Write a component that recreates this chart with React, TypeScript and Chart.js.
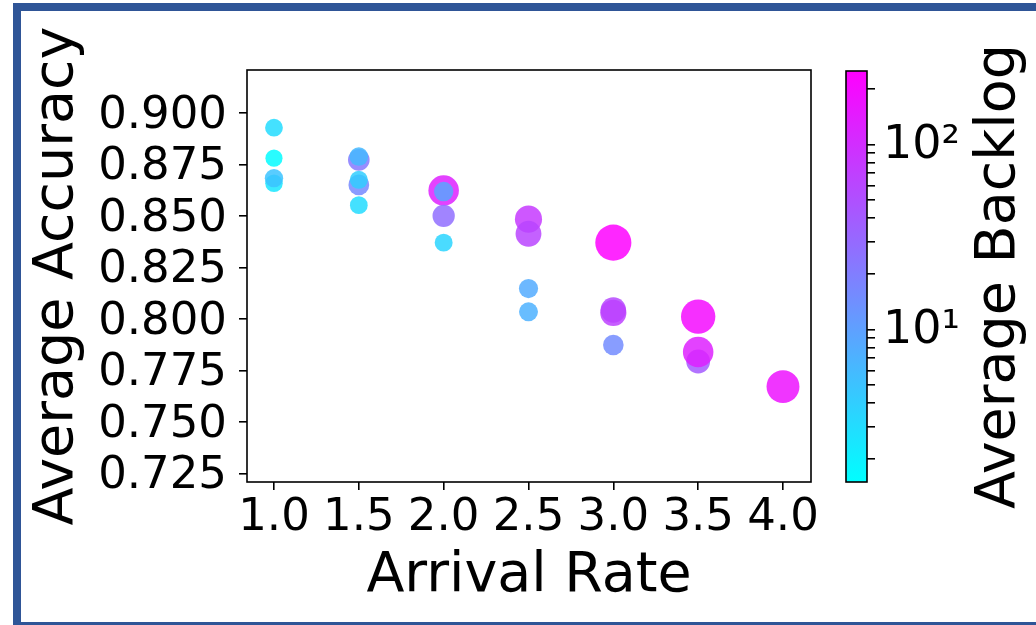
import React, { useEffect, useRef } from 'react';
import { Chart, registerables } from 'chart.js';

Chart.register(...registerables);

// ---- data ----
const arrivalRates = [
  1.0, 1.0, 1.0, 1.0,
  1.5, 1.5, 1.5, 1.5, 1.5,
  2.0, 2.0, 2.0, 2.0,
  2.5, 2.5, 2.5, 2.5,
  3.0, 3.0, 3.0, 3.0,
  3.5, 3.5, 3.5,
  4.0,
];
const averageAccuracy = [
  0.893, 0.8782, 0.866, 0.8685,
  0.8774, 0.879, 0.8652, 0.8677, 0.8554,
  0.8625, 0.862, 0.8502, 0.8372,
  0.8486, 0.8415, 0.8149, 0.8036,
  0.8372, 0.8045, 0.8031, 0.7875,
  0.8013, 0.7795, 0.7841,
  0.7673,
];
const averageBacklog = [
  3, 1.6, 2.5, 5,
  22, 6, 16, 4, 3,
  130, 9, 27, 3.5,
  78, 62, 8, 7,
  245, 58, 66, 15,
  205, 40, 130,
  175,
];
const xTicks = [1.0, 1.5, 2.0, 2.5, 3.0, 3.5, 4.0];
const yTicks = [0.725, 0.75, 0.775, 0.8, 0.825, 0.85, 0.875, 0.9];
const backlogTicks = [2, 3, 4, 5, 6, 7, 8, 9, 10, 20, 30, 40, 50, 60, 70, 80, 90, 100, 200];
const backlogTickLabels: Record<number, string> = { 10: '10¹', 100: '10²' };
const backlogRange = [1.5, 250];

const FONT = "'DejaVu Sans', sans-serif";
const ALPHA = 0.85;

function coolT(b: number) {
  const lo = Math.log10(backlogRange[0]);
  const hi = Math.log10(backlogRange[1]);
  return Math.min(1, Math.max(0, (Math.log10(b) - lo) / (hi - lo)));
}
function coolColor(b: number, a: number) {
  const t = coolT(b);
  return `rgba(${Math.round(255 * t)},${Math.round(255 * (1 - t))},255,${a})`;
}
function markerRadius(b: number) {
  return 7.73 + 0.66 * Math.sqrt(b);
}

export default function App() {
  const mainRef = useRef<HTMLCanvasElement | null>(null);
  const cbarRef = useRef<HTMLCanvasElement | null>(null);

  useEffect(() => {
    Chart.defaults.color = '#000';
    Chart.defaults.font.family = FONT;

    const points = arrivalRates.map((x, i) => ({ x, y: averageAccuracy[i] }));
    const colors = averageBacklog.map((b) => coolColor(b, ALPHA));
    const radii = averageBacklog.map((b) => markerRadius(b));

    const framePlugin = {
      id: 'frame',
      afterDatasetsDraw(chart: any) {
        const { ctx, chartArea: a } = chart;
        ctx.save();
        ctx.strokeStyle = '#000';
        ctx.lineWidth = 1.6;
        ctx.strokeRect(a.left, a.top, a.right - a.left, a.bottom - a.top);
        ctx.restore();
      },
    };

    const tickGrid = {
      drawOnChartArea: false,
      drawTicks: true,
      tickLength: 8,
      color: '#000',
      lineWidth: 1.6,
    };

    const main = new Chart(mainRef.current as HTMLCanvasElement, {
      type: 'scatter',
      data: {
        datasets: [
          {
            data: points,
            pointBackgroundColor: colors,
            pointRadius: radii,
            pointHoverRadius: radii,
            pointBorderWidth: 0,
            borderWidth: 0,
          } as any,
        ],
      },
      options: {
        responsive: false,
        animation: false,
        devicePixelRatio: 1,
        events: [],
        layout: { padding: { left: 20, top: 70, right: 225, bottom: 0 } },
        plugins: { legend: { display: false }, tooltip: { enabled: false } },
        scales: {
          x: {
            type: 'linear',
            min: 0.841,
            max: 4.165,
            afterBuildTicks: (s: any) => {
              s.ticks = xTicks.map((v) => ({ value: v }));
            },
            afterFit: (s: any) => {
              s.height = 143;
            },
            ticks: {
              font: { size: 45, family: FONT },
              padding: 1,
              maxRotation: 0,
              autoSkip: false,
              callback: (v: any) => Number(v).toFixed(1),
            },
            grid: tickGrid,
            border: { display: false },
            title: {
              display: true,
              text: 'Arrival Rate',
              font: { size: 55.5, family: FONT },
              padding: { top: 0, bottom: 14.7 },
            },
          },
          y: {
            type: 'linear',
            min: 0.721,
            max: 0.921,
            afterBuildTicks: (s: any) => {
              s.ticks = yTicks.map((v) => ({ value: v }));
            },
            afterFit: (s: any) => {
              s.width = 227;
            },
            ticks: {
              font: { size: 45, family: FONT },
              padding: 12,
              labelOffset: 3,
              autoSkip: false,
              callback: (v: any) => Number(v).toFixed(3),
            },
            grid: tickGrid,
            border: { display: false },
            title: {
              display: true,
              text: 'Average Accuracy',
              font: { size: 55.5, family: FONT },
              padding: { top: 4.5, bottom: 0 },
            },
          },
        },
      } as any,
      plugins: [framePlugin],
    });

    const colorbarPlugin = {
      id: 'colorbar',
      beforeDatasetsDraw(chart: any) {
        const { ctx, chartArea: a } = chart;
        ctx.save();
        const g = ctx.createLinearGradient(0, a.bottom, 0, a.top);
        g.addColorStop(0, coolColor(backlogRange[0], 1));
        g.addColorStop(1, coolColor(backlogRange[1], 1));
        ctx.fillStyle = g;
        ctx.fillRect(a.left, a.top, a.right - a.left, a.bottom - a.top);
        ctx.strokeStyle = '#000';
        ctx.lineWidth = 1.6;
        ctx.strokeRect(a.left, a.top, a.right - a.left, a.bottom - a.top);
        ctx.restore();
      },
      afterDraw(chart: any) {
        const { ctx, chartArea: a } = chart;
        ctx.save();
        ctx.translate(1000, (a.top + a.bottom) / 2);
        ctx.rotate(-Math.PI / 2);
        ctx.font = `55.5px ${FONT}`;
        ctx.fillStyle = '#000';
        ctx.textAlign = 'center';
        ctx.textBaseline = 'middle';
        ctx.fillText('Average Backlog', 0, 0);
        ctx.restore();
      },
    };

    const cbar = new Chart(cbarRef.current as HTMLCanvasElement, {
      type: 'scatter',
      data: { datasets: [] },
      options: {
        responsive: false,
        animation: false,
        devicePixelRatio: 1,
        events: [],
        layout: { padding: { left: 846, top: 71, right: 0, bottom: 143 } },
        plugins: { legend: { display: false }, tooltip: { enabled: false } },
        scales: {
          x: { type: 'linear', display: false, min: 0, max: 1 },
          y: {
            type: 'logarithmic',
            position: 'right',
            min: backlogRange[0],
            max: backlogRange[1],
            afterBuildTicks: (s: any) => {
              s.ticks = backlogTicks.map((v) => ({ value: v, major: !!backlogTickLabels[v] }));
            },
            afterFit: (s: any) => {
              s.width = 169;
            },
            ticks: {
              font: { size: 46, family: FONT },
              padding: 8,
              labelOffset: 1,
              autoSkip: false,
              callback: (v: any) => backlogTickLabels[Number(v)] || '',
            },
            grid: tickGrid,
            border: { display: false },
          },
        },
      } as any,
      plugins: [colorbarPlugin],
    });

    return () => {
      main.destroy();
      cbar.destroy();
    };
  }, []);

  return (
    <div
      style={{
        position: 'fixed',
        left: 0,
        top: 0,
        width: 1036,
        height: 625,
        overflow: 'hidden',
        background: '#fff',
      }}
    >
      <canvas
        ref={mainRef}
        width={1036}
        height={625}
        style={{ position: 'absolute', left: 0, top: 0, width: 1036, height: 625 }}
      />
      <canvas
        ref={cbarRef}
        width={1036}
        height={625}
        style={{ position: 'absolute', left: 0, top: 0, width: 1036, height: 625 }}
      />
      <div
        style={{
          position: 'absolute',
          left: 13,
          top: 3,
          width: 1100,
          height: 627,
          boxSizing: 'border-box',
          border: '8px solid #2f5597',
          pointerEvents: 'none',
        }}
      />
    </div>
  );
}
